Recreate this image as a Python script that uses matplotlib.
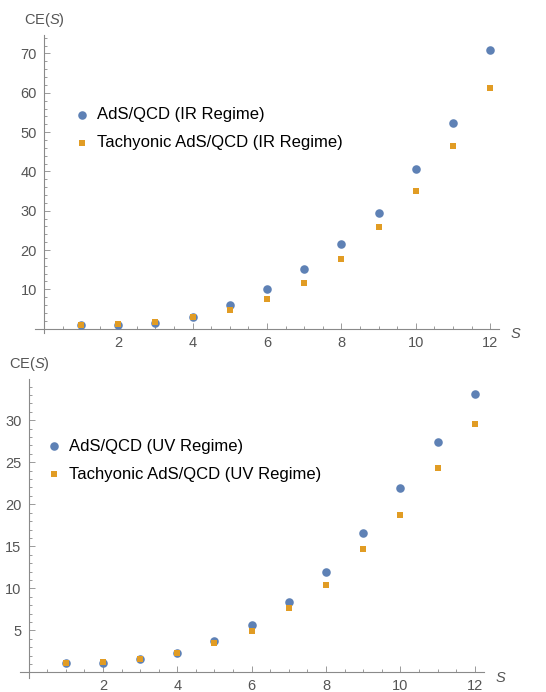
# CE(S) for AdS/QCD vs tachyonic AdS/QCD, IR and UV regimes
import matplotlib.pyplot as plt
from matplotlib.ticker import MultipleLocator

plt.rcParams['font.family'] = ['Liberation Sans', 'DejaVu Sans']
plt.rcParams['mathtext.fontset'] = 'custom'
plt.rcParams['mathtext.rm'] = 'Liberation Sans'
plt.rcParams['mathtext.it'] = 'Liberation Sans:italic'

s_vals = [1, 2, 3, 4, 5, 6, 7, 8, 9, 10, 11, 12]

# IR regime
ir_ads = [0.95, 0.95, 1.45, 3.0, 6.0, 10.1, 15.2, 21.5, 29.4, 40.5, 52.2, 70.8]
ir_tach = [0.9, 1.2, 1.6, 3.0, 4.75, 7.55, 11.6, 17.7, 25.9, 35.0, 46.5, 61.2]

# UV regime
uv_ads = [1.12, 1.12, 1.6, 2.35, 3.77, 5.67, 8.37, 11.94, 16.58, 21.93, 27.4, 33.07]
uv_tach = [1.12, 1.24, 1.6, 2.27, 3.53, 4.96, 7.7, 10.43, 14.7, 18.75, 24.3, 29.53]

blue = '#5E81B5'
orange = '#E19C24'
axis_col = '#8a8a8a'
label_col = '#555555'

fig = plt.figure(figsize=(5.46, 6.92), dpi=100)


def setup_axes(ax, xlim, ylim, ymajor, yminor, ylab_x):
    ax.set_xlim(*xlim)
    ax.set_ylim(*ylim)
    ax.spines['left'].set_position(('data', 0))
    ax.spines['bottom'].set_position(('data', 0))
    ax.spines['top'].set_visible(False)
    ax.spines['right'].set_visible(False)
    for sp in ['left', 'bottom']:
        ax.spines[sp].set_color(axis_col)
        ax.spines[sp].set_linewidth(0.8)
    ax.xaxis.set_minor_locator(MultipleLocator(0.5))
    ax.yaxis.set_minor_locator(MultipleLocator(yminor))
    ax.tick_params(which='both', direction='in', color=axis_col, width=0.6)
    ax.tick_params(which='major', length=4, labelsize=10.5, labelcolor=label_col, pad=5)
    ax.tick_params(which='minor', length=2)
    # no labels at zero
    ax.set_xticks([2, 4, 6, 8, 10, 12])
    ax.set_yticks(list(range(ymajor, int(ylim[1]) + 1, ymajor)))
    ax.set_xlabel('S', style='italic', color=label_col, fontsize=10.5)
    ax.xaxis.set_label_coords(1.035, ax.transAxes.inverted().transform(
        ax.transData.transform((0, 0)))[1] + 0.005)
    ax.set_ylabel('CE($S$)', rotation=0, color=label_col, fontsize=10.5)
    ax.yaxis.set_label_coords(ylab_x, 1.02)


legend_kw = dict(loc='upper left', frameon=False, fontsize=12.0,
                 handlelength=0.8, handletextpad=0.55, borderpad=0,
                 borderaxespad=0, labelspacing=0.78, scatterpoints=1)

# top panel (IR)
ax1 = fig.add_axes([0.0641, 0.5188, 0.85, 0.4306])
setup_axes(ax1, (-0.24, 12.24), (-1.1, 74.7), 10, 2, 0.02)
ax1.scatter(s_vals, ir_ads, s=38, color=blue, marker='o', linewidths=0,
            label='AdS/QCD (IR Regime)', zorder=3, clip_on=False)
ax1.scatter(s_vals, ir_tach, s=16, color=orange, marker='s', linewidths=0,
            label='Tachyonic AdS/QCD (IR Regime)', zorder=4, clip_on=False)
ax1.legend(bbox_to_anchor=(0.086, 0.757), **legend_kw)

# bottom panel (UV)
ax2 = fig.add_axes([0.0366, 0.0202, 0.85, 0.432])
setup_axes(ax2, (-0.23, 12.25), (-0.67, 34.9), 5, 1, 0.02)
ax2.scatter(s_vals, uv_ads, s=38, color=blue, marker='o', linewidths=0,
            label='AdS/QCD (UV Regime)', zorder=3, clip_on=False)
ax2.scatter(s_vals, uv_tach, s=16, color=orange, marker='s', linewidths=0,
            label='Tachyonic AdS/QCD (UV Regime)', zorder=4, clip_on=False)
ax2.legend(bbox_to_anchor=(0.058, 0.80), **legend_kw)

fig.savefig('out.png', dpi=100)
